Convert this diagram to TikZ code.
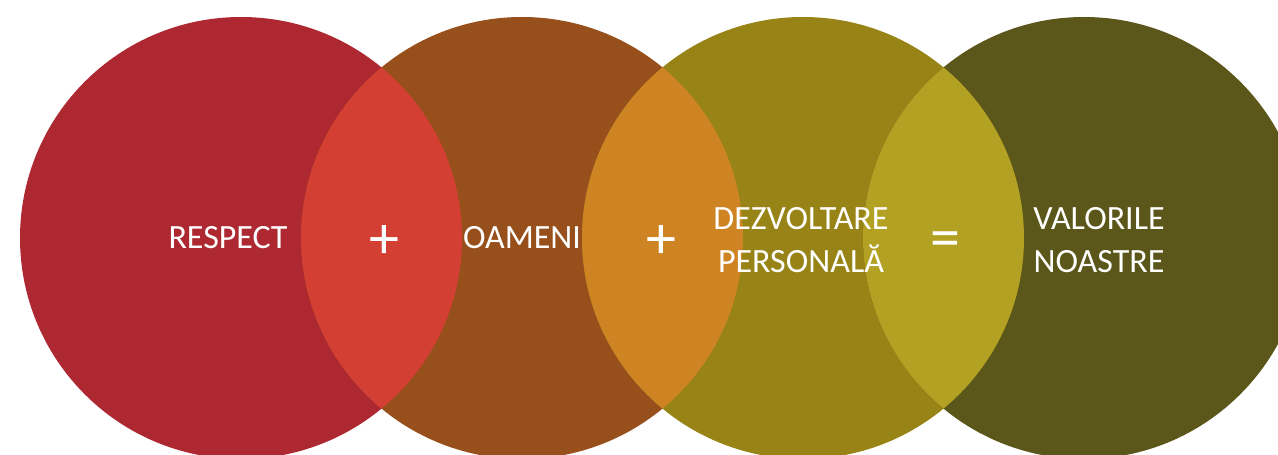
\documentclass[tikz,border=0pt]{standalone}
\usepackage{fontspec}
\setmainfont{Carlito}
\usetikzlibrary{positioning}

\definecolor{cRespect}{HTML}{AD2830}
\definecolor{cOameni}{HTML}{97501C}
\definecolor{cDezv}{HTML}{988316}
\definecolor{cValori}{HTML}{5B5619}
\definecolor{lensA}{HTML}{D43F33}
\definecolor{lensB}{HTML}{CF8424}
\definecolor{lensC}{HTML}{B3A123}

\tikzset{
    word/.style={text=white, font=\fontsize{34}{43}\selectfont, align=center, inner sep=0pt},
    sign/.style={text=white, font=\fontsize{60}{60}\selectfont, inner sep=0pt}
}

\begin{document}
\begin{tikzpicture}[x=1pt, y=1pt]
    \useasboundingbox (0,0) rectangle (1278,455);
    \clip (0,0) rectangle (1278,455);

    \coordinate (R) at (241, 217);
    \coordinate (O) at (522, 217);
    \coordinate (D) at (803, 217);
    \coordinate (V) at (1084, 217);

    % cercurile
    \foreach \c/\col in {R/cRespect, O/cOameni, D/cDezv, V/cValori}
    {
        \fill[\col] (\c) circle (221);
    };

    % intersectiile
    \foreach \a/\b/\col in {R/O/lensA, O/D/lensB, D/V/lensC}
    {
        \begin{scope}
            \clip (\a) circle (221);
            \fill[\col] (\b) circle (221);
        \end{scope}
    };

    \node[word] (respect) at (228, 217) {RESPECT};
    \node[word] (oameni) at (522, 217) {OAMENI};
    \node[word] (dezv) at (801, 214.5) {DEZVOLTARE\\PERSONALĂ};
    \node[word] (valori) at (1099, 214.5) {VALORILE\\NOASTRE};

    \node[sign] (plusA) at (384, 213) {+};
    \node[sign] (plusB) at (661, 213) {+};
    \node[sign] (egal) at (945, 210) {=};
\end{tikzpicture}
\end{document}
